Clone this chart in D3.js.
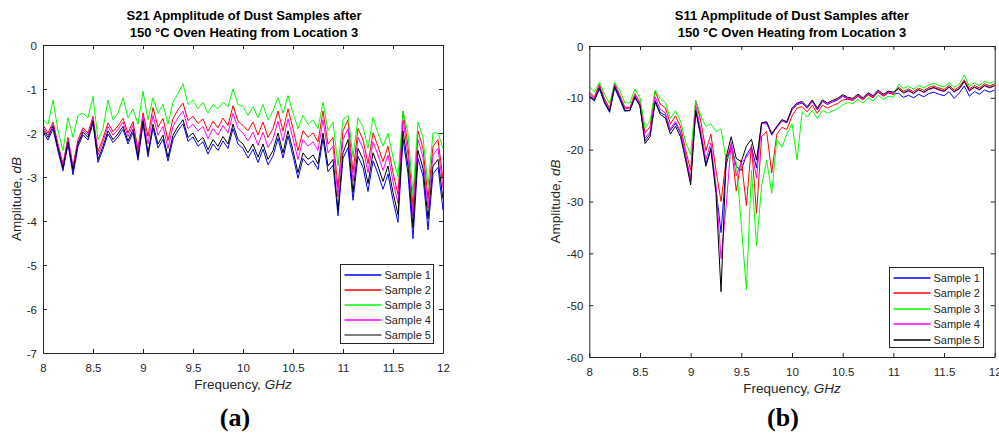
<!DOCTYPE html>
<html>
<head>
<meta charset="utf-8">
<script src="https://cdn.jsdelivr.net/npm/d3@7"></script>
<style>
  html, body { margin: 0; padding: 0; background: #fff; }
  svg { display: block; }
</style>
</head>
<body>
<svg id="chart" width="999" height="436"></svg>
<script>
// ---------- DATA ----------
const frequency = [
  8.00, 8.05, 8.10, 8.15, 8.20, 8.25, 8.30, 8.35, 8.40, 8.45,
  8.50, 8.55, 8.60, 8.65, 8.70, 8.75, 8.80, 8.85, 8.90, 8.95,
  9.00, 9.05, 9.10, 9.15, 9.20, 9.25, 9.30, 9.35, 9.40, 9.45,
  9.50, 9.55, 9.60, 9.65, 9.70, 9.75, 9.80, 9.85, 9.90, 9.95,
  10.00, 10.05, 10.10, 10.15, 10.20, 10.25, 10.30, 10.35, 10.40, 10.45,
  10.50, 10.55, 10.60, 10.65, 10.70, 10.75, 10.80, 10.85, 10.90, 10.95,
  11.00, 11.05, 11.10, 11.15, 11.20, 11.25, 11.30, 11.35, 11.40, 11.45,
  11.50, 11.55, 11.60, 11.65, 11.70, 11.75, 11.80, 11.85, 11.90, 11.95,
  12.00
];
const seriesNames = ["Sample 1", "Sample 2", "Sample 3", "Sample 4", "Sample 5"];
const seriesColors = ["#0000ff", "#ff0000", "#00ff00", "#ff00ff", "#000000"];
const xTicks = [8, 8.5, 9, 9.5, 10, 10.5, 11, 11.5, 12];
const yTicksS21 = [0, -1, -2, -3, -4, -5, -6, -7];
const yTicksS11 = [0, -10, -20, -30, -40, -50, -60];

// S21 (dB)
const s21Sample1 = [
  -1.98, -2.16, -1.91, -2.41, -2.86, -2.26, -2.95, -2.31, -2.04, -2.16,
  -1.78, -2.67, -2.37, -2.02, -2.22, -2.09, -1.92, -2.25, -1.99, -2.62,
  -1.79, -2.54, -1.89, -2.34, -2.14, -2.64, -2.14, -1.94, -1.79, -2.19,
  -2.09, -2.30, -2.20, -2.48, -2.25, -2.40, -2.18, -2.35, -1.90, -2.25,
  -2.35, -2.57, -2.37, -2.67, -2.37, -2.72, -2.52, -2.12, -2.57, -2.07,
  -2.52, -3.03, -2.58, -2.73, -2.63, -2.83, -2.13, -2.88, -2.73, -3.88,
  -2.58, -2.33, -3.53, -2.53, -2.78, -3.33, -2.63, -2.93, -3.28, -2.93,
  -3.53, -4.03, -2.13, -2.93, -4.40, -2.58, -2.98, -4.20, -2.93, -2.78,
  -3.75
];
const s21Sample2 = [
  -1.82, -2.00, -1.75, -2.25, -2.70, -2.10, -2.75, -2.15, -1.88, -2.00,
  -1.62, -2.42, -2.12, -1.77, -1.97, -1.84, -1.67, -2.00, -1.74, -2.37,
  -1.54, -2.07, -1.42, -1.87, -1.67, -2.17, -1.67, -1.47, -1.32, -1.72,
  -1.62, -1.78, -1.68, -1.96, -1.73, -1.88, -1.66, -1.83, -1.38, -1.73,
  -1.83, -1.95, -1.75, -2.05, -1.75, -2.10, -1.90, -1.50, -1.95, -1.45,
  -1.90, -2.40, -1.95, -2.10, -2.00, -2.20, -1.50, -2.25, -2.10, -3.25,
  -1.95, -1.70, -2.90, -1.90, -2.15, -2.70, -2.00, -2.30, -2.65, -2.30,
  -2.90, -3.40, -1.50, -2.30, -3.70, -1.95, -2.35, -3.50, -2.30, -2.15,
  -3.05
];
const s21Sample3 = [
  -1.70, -1.80, -1.25, -1.95, -2.40, -1.65, -2.10, -1.60, -1.55, -1.65,
  -1.17, -2.15, -1.90, -1.25, -1.70, -1.55, -1.20, -1.65, -1.45, -1.80,
  -1.05, -1.70, -1.20, -1.55, -1.35, -1.80, -1.30, -1.10, -0.88, -1.35,
  -1.25, -1.45, -1.30, -1.55, -1.35, -1.45, -1.30, -1.40, -1.00, -1.35,
  -1.40, -1.60, -1.40, -1.65, -1.35, -1.70, -1.50, -1.20, -1.55, -1.15,
  -1.55, -1.90, -1.60, -1.80, -1.70, -1.90, -1.30, -1.95, -1.75, -2.75,
  -1.70, -1.60, -2.55, -1.65, -1.85, -2.35, -1.65, -2.00, -2.30, -2.00,
  -2.55, -3.00, -1.50, -2.00, -3.40, -1.75, -2.10, -3.20, -2.00, -2.00,
  -2.35
];
const s21Sample4 = [
  -1.87, -2.05, -1.80, -2.30, -2.75, -2.15, -2.80, -2.20, -1.93, -2.05,
  -1.67, -2.50, -2.20, -1.85, -2.05, -1.92, -1.75, -2.08, -1.82, -2.45,
  -1.62, -2.25, -1.60, -2.05, -1.85, -2.35, -1.85, -1.65, -1.50, -1.90,
  -1.80, -1.95, -1.85, -2.13, -1.90, -2.05, -1.83, -2.00, -1.55, -1.90,
  -2.00, -2.18, -1.98, -2.28, -1.98, -2.33, -2.13, -1.73, -2.18, -1.68,
  -2.13, -2.60, -2.15, -2.30, -2.20, -2.40, -1.70, -2.45, -2.30, -3.45,
  -2.15, -1.90, -3.10, -2.10, -2.35, -2.90, -2.20, -2.50, -2.85, -2.50,
  -3.10, -3.60, -1.70, -2.50, -3.90, -2.15, -2.55, -3.70, -2.50, -2.35,
  -3.25
];
const s21Sample5 = [
  -1.92, -2.10, -1.85, -2.35, -2.80, -2.20, -2.85, -2.25, -1.98, -2.10,
  -1.72, -2.60, -2.30, -1.95, -2.15, -2.02, -1.85, -2.18, -1.92, -2.55,
  -1.72, -2.45, -1.80, -2.25, -2.05, -2.55, -2.05, -1.85, -1.70, -2.10,
  -2.00, -2.20, -2.10, -2.38, -2.15, -2.30, -2.08, -2.25, -1.80, -2.15,
  -2.25, -2.45, -2.25, -2.55, -2.25, -2.60, -2.40, -2.00, -2.45, -1.95,
  -2.40, -2.90, -2.45, -2.60, -2.50, -2.70, -2.00, -2.75, -2.60, -3.75,
  -2.45, -2.15, -3.35, -2.35, -2.60, -3.15, -2.45, -2.75, -3.10, -2.75,
  -3.35, -3.85, -1.95, -2.75, -4.15, -2.40, -2.80, -3.95, -2.75, -2.60,
  -3.50
];

// S11 (dB)
const s11Sample1 = [
  -9.8, -10.6, -8.3, -11.0, -12.8, -8.1, -10.3, -12.6, -12.4, -10.0,
  -11.6, -18.3, -17.0, -10.5, -12.8, -13.4, -16.3, -14.9, -16.8, -21.2,
  -26.0, -12.3, -17.0, -22.8, -19.6, -27.5, -36.0, -23.0, -19.0, -23.2,
  -24.0, -21.0, -19.5, -23.5, -14.9, -14.8, -17.2, -15.6, -14.4, -14.8,
  -12.3, -11.3, -11.0, -12.0, -10.7, -12.3, -10.7, -11.3, -10.8, -10.4,
  -9.7, -10.2, -10.4, -9.6, -10.3, -9.3, -9.9, -8.8, -9.6, -9.0,
  -9.3, -9.1, -9.9, -9.5, -10.0, -9.3, -9.8, -9.2, -8.9, -9.3,
  -9.6, -8.8, -10.1, -9.1, -7.7, -9.7, -8.8, -9.3, -8.5, -8.9,
  -8.5
];
const s11Sample2 = [
  -8.9, -9.8, -7.4, -10.2, -12.0, -7.2, -9.4, -11.8, -11.9, -9.2,
  -10.9, -16.8, -15.5, -8.8, -11.2, -11.9, -15.0, -13.5, -15.5, -20.0,
  -24.0, -10.5, -14.5, -20.2, -17.0, -24.0, -30.0, -22.0, -19.0, -28.0,
  -22.0, -30.8, -19.0, -32.3, -17.5, -16.5, -24.5, -17.0, -15.7, -16.1,
  -13.5, -12.0, -11.7, -12.7, -11.4, -13.0, -11.4, -12.0, -11.5, -11.1,
  -10.4, -10.3, -10.5, -9.7, -10.4, -9.4, -10.0, -8.9, -9.7, -9.1,
  -9.3, -7.9, -8.7, -8.3, -8.8, -8.1, -8.6, -8.0, -7.7, -8.1,
  -8.4, -7.6, -8.5, -7.9, -6.5, -8.3, -7.6, -8.1, -7.3, -7.7,
  -7.3
];
const s11Sample3 = [
  -7.8, -8.9, -7.0, -9.3, -11.1, -7.0, -8.5, -10.9, -11.0, -8.3,
  -10.0, -15.8, -14.5, -8.5, -10.2, -10.9, -14.0, -12.5, -14.5, -18.5,
  -21.0, -10.5, -13.5, -15.5, -15.0, -16.5, -16.0, -22.0, -20.5, -22.5,
  -34.5, -47.0, -24.0, -38.5, -27.0, -22.0, -28.4, -18.0, -19.5, -17.0,
  -15.0, -22.0, -12.7, -13.7, -12.4, -14.0, -12.4, -13.0, -12.5, -12.1,
  -11.4, -10.9, -11.1, -10.3, -11.0, -10.0, -10.6, -9.5, -10.3, -9.7,
  -9.9, -7.4, -8.2, -7.8, -8.3, -7.6, -8.1, -7.5, -7.2, -7.6,
  -7.9, -7.1, -8.0, -7.4, -5.6, -7.8, -7.1, -7.6, -6.8, -7.2,
  -6.8
];
const s11Sample4 = [
  -9.2, -10.1, -7.7, -10.5, -12.3, -7.5, -9.7, -12.1, -12.0, -9.5,
  -11.2, -17.8, -16.5, -9.8, -12.2, -12.9, -16.0, -14.5, -16.5, -21.0,
  -25.8, -11.5, -16.2, -21.9, -18.7, -27.0, -41.0, -31.0, -18.5, -25.0,
  -22.5, -21.5, -20.0, -25.5, -15.0, -15.0, -17.0, -15.8, -14.5, -14.6,
  -12.3, -11.2, -10.9, -11.9, -10.6, -12.2, -10.6, -11.2, -10.7, -10.3,
  -9.6, -10.1, -10.3, -9.5, -10.2, -9.2, -9.8, -8.7, -9.5, -8.9,
  -9.1, -8.3, -9.1, -8.7, -9.2, -8.5, -9.0, -8.4, -8.1, -8.5,
  -8.8, -8.0, -8.9, -8.3, -6.9, -8.7, -8.0, -8.5, -7.7, -8.1,
  -7.7
];
const s11Sample5 = [
  -9.5, -10.4, -8.0, -10.8, -12.6, -7.8, -10.0, -12.4, -12.5, -9.8,
  -11.5, -18.8, -17.5, -10.8, -13.2, -13.9, -17.0, -15.5, -17.5, -22.0,
  -26.8, -12.5, -17.5, -23.2, -20.0, -28.5, -47.4, -21.5, -17.5, -21.7,
  -22.3, -19.3, -18.0, -22.0, -14.8, -14.6, -16.9, -15.5, -14.2, -14.6,
  -12.0, -11.0, -10.7, -11.7, -10.4, -12.0, -10.4, -11.0, -10.5, -10.1,
  -9.4, -9.9, -10.1, -9.3, -10.0, -9.0, -9.6, -8.5, -9.3, -8.7,
  -8.9, -8.2, -9.0, -8.6, -9.1, -8.4, -8.9, -8.3, -8.0, -8.4,
  -8.7, -7.9, -8.8, -8.2, -6.8, -8.6, -7.9, -8.4, -7.6, -8.0,
  -7.6
];

// ---------- DRAWING ----------
const svg = d3.select("#chart");
const axisColor = "#262626";
const fontSans = "'Liberation Sans', Arial, Helvetica, sans-serif";
const plainFmt = d => String(d);

const panels = [
  {
    id: "a",
    title: ["S21 Apmplitude of Dust Samples after", "150 \u00B0C Oven Heating from Location 3"],
    series: [s21Sample1, s21Sample2, s21Sample3, s21Sample4, s21Sample5],
    yDomain: [-7, 0], yTicks: yTicksS21,
    left: 43, right: 443, top: 45, bottom: 353,
    titleX: 244, ylabelX: 21,
    legend: { x: 340.5, y: 264.5, w: 93, h: 79, rowH: 15, lineColor5: "#555" },
    caption: "(a)", captionX: 235
  },
  {
    id: "b",
    title: ["S11 Apmplitude of Dust Samples after", "150 \u00B0C Oven Heating from Location 3"],
    series: [s11Sample1, s11Sample2, s11Sample3, s11Sample4, s11Sample5],
    yDomain: [-60, 0], yTicks: yTicksS11,
    left: 589.3, right: 994.7, top: 46, bottom: 357,
    titleX: 792, ylabelX: 560,
    legend: { x: 889.5, y: 267.5, w: 94, h: 80, rowH: 15.5, lineColor5: "#000" },
    caption: "(b)", captionX: 783
  }
];

panels.forEach(p => {
  const g = svg.append("g");
  const x = d3.scaleLinear().domain([8, 12]).range([p.left, p.right]);
  const y = d3.scaleLinear().domain(p.yDomain).range([p.bottom, p.top]);

  const clipId = "clip-" + p.id;
  svg.append("defs").append("clipPath").attr("id", clipId)
    .append("rect").attr("x", p.left).attr("y", p.top)
    .attr("width", p.right - p.left).attr("height", p.bottom - p.top);

  const line = d3.line().x((d, i) => x(frequency[i])).y(d => y(d));
  const lg = g.append("g").attr("clip-path", `url(#${clipId})`);
  p.series.forEach((s, k) => {
    lg.append("path").datum(s)
      .attr("d", line)
      .attr("fill", "none")
      .attr("stroke", seriesColors[k])
      .attr("stroke-width", 1)
      .attr("stroke-linejoin", "round");
  });

  const bottom = g.append("g").attr("transform", `translate(0,${p.bottom})`)
    .call(d3.axisBottom(x).tickValues(xTicks).tickSizeInner(-4).tickSizeOuter(0).tickFormat(plainFmt));
  const top = g.append("g").attr("transform", `translate(0,${p.top})`)
    .call(d3.axisTop(x).tickValues(xTicks).tickSizeInner(-4).tickSizeOuter(0).tickFormat(""));
  const leftAx = g.append("g").attr("transform", `translate(${p.left},0)`)
    .call(d3.axisLeft(y).tickValues(p.yTicks).tickSizeInner(-4).tickSizeOuter(0).tickFormat(plainFmt));
  const rightAx = g.append("g").attr("transform", `translate(${p.right},0)`)
    .call(d3.axisRight(y).tickValues(p.yTicks).tickSizeInner(-4).tickSizeOuter(0).tickFormat(""));

  [bottom, top, leftAx, rightAx].forEach(a => {
    a.select(".domain").attr("stroke", axisColor).attr("stroke-width", 1);
    a.selectAll(".tick line").attr("stroke", axisColor);
    a.selectAll("text").attr("font-family", fontSans).attr("font-size", 11.5).attr("fill", axisColor);
  });
  bottom.selectAll(".tick text").attr("y", 19).attr("dy", 0);
  leftAx.selectAll(".tick text").attr("x", -6).attr("dy", "0.36em");

  p.title.forEach((t, i) => {
    svg.append("text").attr("x", p.titleX).attr("y", 20 + i * 17)
      .attr("text-anchor", "middle").attr("font-family", fontSans)
      .attr("font-weight", "bold").attr("font-size", 13).attr("fill", "#000").text(t);
  });

  const xl = svg.append("text").attr("x", (p.left + p.right) / 2).attr("y", p.bottom + 36)
    .attr("text-anchor", "middle").attr("font-family", fontSans).attr("font-size", 13.5).attr("fill", axisColor);
  xl.append("tspan").text("Frequency, ");
  xl.append("tspan").attr("font-style", "italic").text("GHz");

  const yl = svg.append("text")
    .attr("transform", `translate(${p.ylabelX},${(p.top + p.bottom) / 2}) rotate(-90)`)
    .attr("text-anchor", "middle").attr("font-family", fontSans).attr("font-size", 13.5).attr("fill", axisColor);
  yl.append("tspan").text("Amplitude, ");
  yl.append("tspan").attr("font-style", "italic").text("dB");

  const L = p.legend;
  const leg = svg.append("g");
  leg.append("rect").attr("x", L.x).attr("y", L.y).attr("width", L.w).attr("height", L.h)
    .attr("fill", "#fff").attr("stroke", axisColor).attr("stroke-width", 1);
  seriesNames.forEach((n, k) => {
    const cy = Math.round(L.y + 10 + k * L.rowH);
    leg.append("line").attr("x1", L.x + 4).attr("x2", L.x + 41).attr("y1", cy).attr("y2", cy)
      .attr("stroke", k === 4 ? L.lineColor5 : seriesColors[k]).attr("stroke-width", 1.4);
    leg.append("text").attr("x", L.x + 44).attr("y", cy).attr("dy", "0.36em")
      .attr("font-family", fontSans).attr("font-size", 11).attr("fill", axisColor).text(n);
  });

  svg.append("text").attr("x", p.captionX).attr("y", 426).attr("text-anchor", "middle")
    .attr("font-family", "'Liberation Serif', 'DejaVu Serif', serif").attr("font-weight", "bold")
    .attr("font-size", 26).attr("fill", "#000").text(p.caption);
});
</script>
</body>
</html>
